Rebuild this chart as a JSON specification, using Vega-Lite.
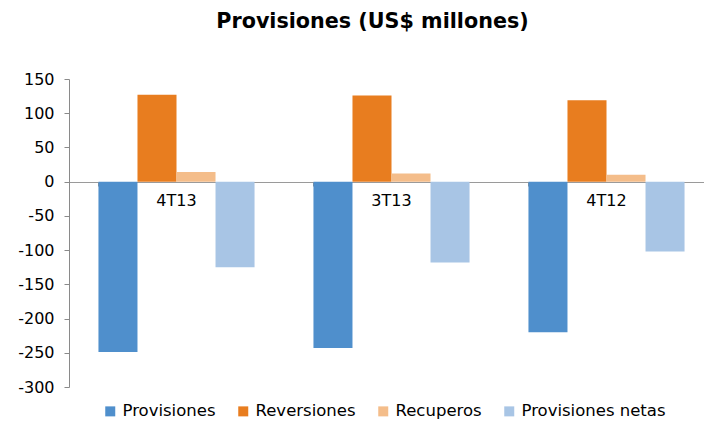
{
  "$schema": "https://vega.github.io/schema/vega-lite/v6.json",
  "width": 645,
  "height": 308,
  "autosize": {"type": "none"},
  "padding": {"left": 69, "top": 79, "right": 0, "bottom": 35},
  "background": "white",
  "config": {"view": {"stroke": null}, "font": "DejaVu Sans"},
  "title": {
    "text": "Provisiones (US$ millones)",
    "font": "DejaVu Sans",
    "fontSize": 20.7,
    "fontWeight": "bold",
    "color": "black",
    "anchor": "middle",
    "dx": -19,
    "offset": 38
  },
  "data": {
    "values": [
      {"periodo": "4T13", "serie": "Provisiones", "valor": -249},
      {"periodo": "4T13", "serie": "Reversiones", "valor": 127},
      {"periodo": "4T13", "serie": "Recuperos", "valor": 14},
      {"periodo": "4T13", "serie": "Provisiones netas", "valor": -125},
      {"periodo": "3T13", "serie": "Provisiones", "valor": -243},
      {"periodo": "3T13", "serie": "Reversiones", "valor": 126},
      {"periodo": "3T13", "serie": "Recuperos", "valor": 12},
      {"periodo": "3T13", "serie": "Provisiones netas", "valor": -118},
      {"periodo": "4T12", "serie": "Provisiones", "valor": -220},
      {"periodo": "4T12", "serie": "Reversiones", "valor": 119},
      {"periodo": "4T12", "serie": "Recuperos", "valor": 10},
      {"periodo": "4T12", "serie": "Provisiones netas", "valor": -102}
    ]
  },
  "encoding": {
    "x": {
      "field": "periodo",
      "type": "nominal",
      "sort": ["4T13", "3T13", "4T12"],
      "scale": {"paddingInner": 0.274, "paddingOuter": 0.137},
      "axis": {
        "title": null,
        "labels": false,
        "offset": -205,
        "bandPosition": 0,
        "domainColor": "#9a9a9a",
        "tickColor": "#8a8a8a",
        "tickSize": 4,
        "grid": false
      }
    },
    "y": {
      "field": "valor",
      "type": "quantitative",
      "scale": {"domain": [-300, 150], "nice": false},
      "axis": {
        "title": null,
        "values": [150, 100, 50, 0, -50, -100, -150, -200, -250, -300],
        "labelExpr": "toString(datum.value)",
        "labelOverlap": false,
        "grid": false,
        "labelFont": "DejaVu Sans",
        "labelFontSize": 16,
        "labelColor": "black",
        "labelPadding": 10,
        "tickSize": 5,
        "tickColor": "#8a8a8a",
        "domainColor": "#8a8a8a"
      }
    }
  },
  "layer": [
    {
      "mark": {"type": "bar"},
      "encoding": {
        "xOffset": {
          "field": "serie",
          "type": "nominal",
          "sort": ["Provisiones", "Reversiones", "Recuperos", "Provisiones netas"],
          "scale": {"paddingInner": 0, "paddingOuter": 0}
        },
        "color": {
          "field": "serie",
          "type": "nominal",
          "scale": {
            "domain": ["Provisiones", "Reversiones", "Recuperos", "Provisiones netas"],
            "range": ["#4F8FCC", "#E87D1F", "#F4BD8A", "#A8C5E5"]
          },
          "legend": {
            "title": null,
            "orient": "none",
            "legendX": 33,
            "legendY": 324,
            "direction": "horizontal",
            "symbolType": "square",
            "symbolSize": 100,
            "symbolStrokeWidth": 0,
            "labelFont": "DejaVu Sans",
            "labelFontSize": 16.5,
            "labelColor": "black",
            "labelOffset": 4,
            "columnPadding": 19
          }
        }
      }
    },
    {
      "transform": [{"filter": "datum.serie === 'Provisiones'"}],
      "mark": {"type": "text", "font": "DejaVu Sans", "fontSize": 16, "fontWeight": "normal", "color": "black", "baseline": "middle", "dy": 19},
      "encoding": {
        "y": {"datum": 0},
        "text": {"field": "periodo"}
      }
    }
  ]
}
